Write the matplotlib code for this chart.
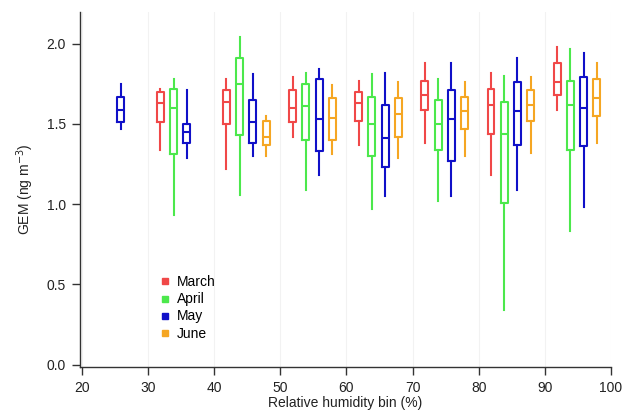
import matplotlib
matplotlib.use("Agg")
import matplotlib.pyplot as plt
from matplotlib.lines import Line2D

plt.rcParams["font.family"] = ["Liberation Sans", "DejaVu Sans"]

# RH bins (lower edge, %)
bins = [20, 30, 40, 50, 60, 70, 80, 90]
months = ["March", "April", "May", "June"]

# each entry: (whisker low, Q1, median, Q3, whisker high); None = no data
march = [None,
         (1.34, 1.51, 1.63, 1.70, 1.72),
         (1.22, 1.50, 1.64, 1.71, 1.78),
         (1.42, 1.51, 1.60, 1.71, 1.79),
         (1.37, 1.52, 1.63, 1.70, 1.77),
         (1.38, 1.59, 1.68, 1.77, 1.88),
         (1.18, 1.44, 1.62, 1.72, 1.82),
         (1.59, 1.68, 1.76, 1.88, 1.98)]
april = [None,
         (0.93, 1.31, 1.60, 1.72, 1.78),
         (1.06, 1.43, 1.75, 1.91, 2.04),
         (1.09, 1.40, 1.61, 1.75, 1.82),
         (0.97, 1.30, 1.50, 1.67, 1.81),
         (1.02, 1.34, 1.50, 1.65, 1.78),
         (0.34, 1.01, 1.44, 1.64, 1.80),
         (0.83, 1.34, 1.62, 1.77, 1.97)]
may = [(1.47, 1.51, 1.59, 1.67, 1.75),
       (1.29, 1.38, 1.45, 1.50, 1.71),
       (1.30, 1.38, 1.51, 1.65, 1.81),
       (1.18, 1.33, 1.53, 1.78, 1.84),
       (1.05, 1.23, 1.41, 1.62, 1.82),
       (1.05, 1.27, 1.53, 1.71, 1.88),
       (1.09, 1.37, 1.58, 1.76, 1.91),
       (0.98, 1.36, 1.60, 1.79, 1.94)]
june = [None,
        None,
        (1.30, 1.37, 1.42, 1.52, 1.55),
        (1.31, 1.40, 1.54, 1.66, 1.74),
        (1.29, 1.42, 1.56, 1.66, 1.76),
        (1.30, 1.47, 1.58, 1.67, 1.76),
        (1.32, 1.52, 1.62, 1.71, 1.79),
        (1.38, 1.55, 1.66, 1.78, 1.88)]

series = [march, april, may, june]
colors = ["#f04848", "#4ce84c", "#1010c8", "#f5a623"]
offsets = [1.85, 3.85, 5.85, 7.85]

fig = plt.figure(figsize=(6.25, 4.18), dpi=100)
ax = fig.add_axes([0.128, 0.122, 0.8496, 0.85])

for data, col, off in zip(series, colors, offsets):
    stats, pos = [], []
    for b, v in zip(bins, data):
        if v is None:
            continue
        lo, q1, med, q3, hi = v
        stats.append(dict(whislo=lo, q1=q1, med=med, q3=q3, whishi=hi, fliers=[]))
        pos.append(b + off)
    lp = dict(color=col, linewidth=1.5)
    ax.bxp(stats, positions=pos, widths=1.05, showcaps=False, showfliers=False,
           boxprops=lp, whiskerprops=lp, medianprops=lp, manage_ticks=False)

ax.set_xlim(19.7, 100)
ax.set_ylim(-0.015, 2.2)
ax.set_xticks(range(20, 101, 10))
ax.set_yticks([0.0, 0.5, 1.0, 1.5, 2.0])
ax.set_yticklabels(["0.0", "0.5", "1.0", "1.5", "2.0"])
ax.grid(axis="x", color="#f2f2f2", linewidth=0.8)
ax.set_axisbelow(True)
for s in ["top", "right"]:
    ax.spines[s].set_visible(False)
for s in ["left", "bottom"]:
    ax.spines[s].set_color("#333333")
    ax.spines[s].set_linewidth(1.0)
ax.tick_params(direction="out", length=6, width=1, colors="#333333",
               labelsize=10, labelcolor="#222222", pad=4)
ax.set_xlabel("Relative humidity bin (%)", fontsize=10, labelpad=1,
              color="#222222")
ax.set_ylabel("GEM (ng m$^{-3}$)", fontsize=10, labelpad=8, color="#222222")

handles = [Line2D([], [], marker="s", linestyle="none", color=c, markersize=5)
           for c in colors]
ax.legend(handles, months, loc="upper left", bbox_to_anchor=(0.150, 0.258),
          frameon=False, fontsize=10, handletextpad=0.45, labelspacing=0.22,
          handlelength=0.8, borderpad=0, borderaxespad=0)

fig.savefig("out.png", dpi=100)
